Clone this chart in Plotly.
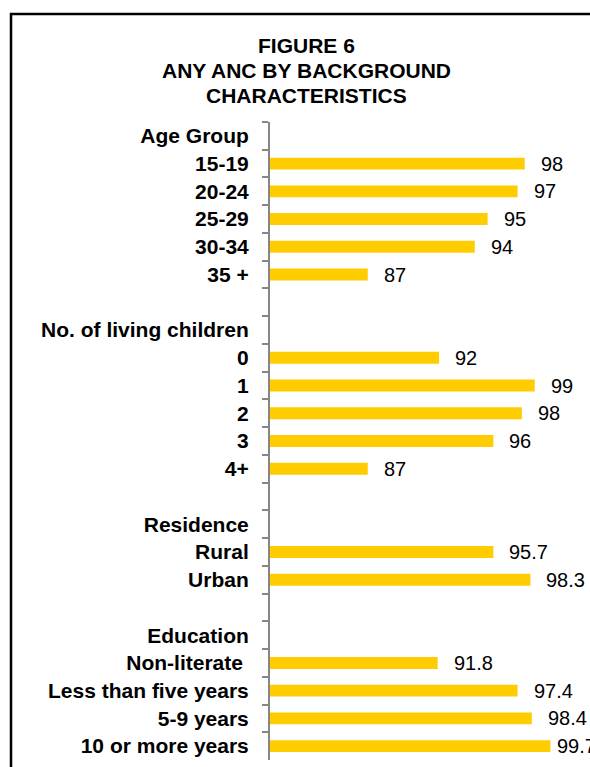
import plotly.graph_objects as go

categories = ["Age Group", "15-19", "20-24", "25-29", "30-34", "35 +", " ",
              "No. of living children", "0", "1", "2", "3", "4+", "  ",
              "Residence", "Rural", "Urban", "   ",
              "Education", "Non-literate\u00a0", "Less than five years", "5-9 years", "10 or more years"]
# bar lengths (labels show the rounded figures)
values = [None, 97.9, 97.4, 95.3, 94.4, 86.9, None,
          None, 91.9, 98.6, 97.7, 95.7, 86.9, None,
          None, 95.7, 98.3, None,
          None, 91.8, 97.4, 98.4, 99.7]
value_labels = ["", "98", "97", "95", "94", "87", "",
                "", "92", "99", "98", "96", "87", "",
                "", "95.7", "98.3", "",
                "", "91.8", "97.4", "98.4", "99.7"]
title_lines = ["FIGURE 6", "ANY ANC BY BACKGROUND", "CHARACTERISTICS"]

W, H = 590, 767
ML, MT, MB, MR = 270, 122, 7, 35
X_MIN = 80.05
UNIT_PX = 14.27
FONT = "Liberation Sans, Arial, sans-serif"
BAR = "#FFCC00"
AXIS = "#868686"
LABEL_SIZE = 20

pw = W - ML - MR
ph = H - MT - MB
X_MAX = X_MIN + pw / UNIT_PX

fig = go.Figure()
fig.add_trace(go.Bar(
    y=categories, x=values, orientation="h",
    marker=dict(color=BAR, line=dict(width=0)),
    width=0.43, hoverinfo="skip",
))

for i, (v, t) in enumerate(zip(values, value_labels)):
    if v is None:
        continue
    end_px = ML + (v - X_MIN) * UNIT_PX
    est_w = sum(0.278 if ch == "." else 0.556 for ch in t) * LABEL_SIZE
    shift = 14 if end_px + 14 + est_w <= W else 5
    fig.add_annotation(x=v, y=i, xref="x", yref="y", text=t, showarrow=False,
                       xanchor="left", yanchor="middle", xshift=shift,
                       font=dict(family=FONT, size=LABEL_SIZE, color="#000000"))

def px_x(p): return (p - ML) / pw
def px_y(p): return 1 - (p - MT) / ph

for k, line in enumerate(title_lines):
    fig.add_annotation(x=px_x(306), y=px_y(45.5 + 25 * k), xref="paper", yref="paper",
                       text="<b>" + line + "</b>", showarrow=False,
                       xanchor="center", yanchor="middle",
                       font=dict(family=FONT, size=21, color="#000000"))

fig.add_shape(type="rect", xref="paper", yref="paper",
              x0=px_x(11), x1=px_x(W + 40), y0=px_y(14), y1=px_y(H + 40),
              line=dict(color="#000000", width=2.5), fillcolor="rgba(0,0,0,0)", layer="below")

fig.update_layout(
    width=W, height=H, autosize=False,
    margin=dict(l=ML, r=MR, t=MT, b=MB, pad=0),
    paper_bgcolor="white", plot_bgcolor="white",
    showlegend=False,
    xaxis=dict(range=[X_MIN, X_MAX], visible=False, fixedrange=True),
    yaxis=dict(type="category", autorange="reversed",
               showline=True, linecolor=AXIS, linewidth=2,
               ticks="outside", ticklen=6, tickcolor=AXIS, tickwidth=1.5,
               tickson="boundaries", ticklabelstandoff=15,
               showgrid=False, zeroline=False,
               tickfont=dict(family=FONT, size=21, color="#000000", weight="bold")),
)

fig.write_html("out.html")
